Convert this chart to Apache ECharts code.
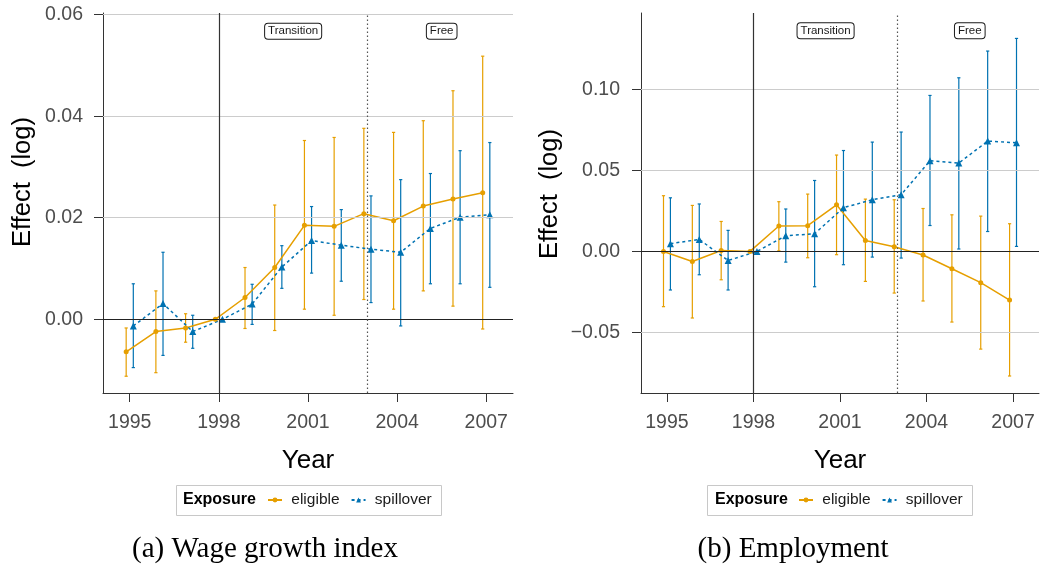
<!DOCTYPE html>
<html><head><meta charset="utf-8">
<script src="https://cdn.jsdelivr.net/npm/echarts@6/dist/echarts.min.js"></script>
<style>html,body{margin:0;padding:0;background:#fff}#c{width:1040px;height:573px}</style>
</head><body><div id="c"></div>
<script>
// ---- data ----
const years = [1995,1996,1997,1998,1999,2000,2001,2002,2003,2004,2005,2006,2007];
const xTicks = [1995,1998,2001,2004,2007];

// (a) Wage growth index
const wageEligible   = [-0.0064,-0.0024,-0.0017,0, 0.0043, 0.0102,0.0185,0.0183,0.0208,0.0194,0.0223,0.0237, 0.0249];
const wageEligibleLo = [-0.0112,-0.0105,-0.0045,0,-0.0018,-0.0022,0.0020,0.0008,0.0039,0.0020,0.0056,0.0026,-0.0019];
const wageEligibleHi = [-0.0017, 0.0056, 0.0011,0, 0.0102, 0.0225,0.0352,0.0358,0.0376,0.0368,0.0391,0.0450, 0.0518];
const wageSpill      = [-0.0013, 0.0031,-0.0024,0, 0.0030, 0.0103,0.0155,0.0146,0.0138, 0.0132,0.0179,0.0201,0.0206];
const wageSpillLo    = [-0.0095,-0.0071,-0.0057,0,-0.0010, 0.0061,0.0091,0.0075,0.0033,-0.0013,0.0070,0.0070,0.0063];
const wageSpillHi    = [ 0.0070, 0.0132, 0.0008,0, 0.0069, 0.0145,0.0222,0.0216,0.0243, 0.0275,0.0287,0.0332,0.0348];
const wageYTicks = [0, 0.02, 0.04, 0.06];

// (b) Employment
const empEligible   = [0,-0.0062, 0.0006,0,0.0157, 0.0159, 0.0288, 0.0068, 0.0029,-0.0022,-0.0107,-0.0193,-0.0300];
const empEligibleLo = [-0.0341,-0.0411,-0.0175,0,0.0004,-0.0039,-0.0020,-0.0185,-0.0257,-0.0306,-0.0436,-0.0603,-0.0769];
const empEligibleHi = [ 0.0344, 0.0284, 0.0185,0,0.0307, 0.0354, 0.0595, 0.0323, 0.0319, 0.0265, 0.0226, 0.0218, 0.0171];
const empSpill      = [ 0.0048, 0.0074,-0.0056,0, 0.0097, 0.0109, 0.0270, 0.0319, 0.0350,0.0560,0.0546,0.0681,0.0671];
const empSpillLo    = [-0.0238,-0.0144,-0.0238,0,-0.0066,-0.0218,-0.0082,-0.0035,-0.0041,0.0160,0.0015,0.0123,0.0031];
const empSpillHi    = [ 0.0331, 0.0293, 0.0130,0, 0.0262, 0.0438, 0.0623, 0.0675, 0.0737,0.0963,0.1072,0.1237,0.1315];
const empYTicks = [-0.05, 0, 0.05, 0.10];

const periodLabels = ['Transition','Free'];
const periodMid = [2000.5, 2005.5];
const reformYear = 1998, freeYear = 2003;

// ---- style ----
const ORANGE = '#E69F00', BLUE = '#0072B2';
const SANS = 'Liberation Sans, Arial, Helvetica, sans-serif';
const SERIF = 'Liberation Serif, Times New Roman, serif';
const DODGE = 0.12;

const pts = (vals, off) => years.map((y,i) => [y+off, vals[i]]);
const ci = (lo, hi, off) => years.map((y,i) => [y+off, lo[i], hi[i]]).filter(d => d[1] !== d[2]);

function errRender(color){
  return function(params, api){
    const x = api.value(0), lo = api.value(1), hi = api.value(2);
    const a = api.coord([x, hi]), b = api.coord([x, lo]);
    const c = 1.6, st = {stroke: color, lineWidth: 1.2};
    return {type:'group', children:[
      {type:'line', shape:{x1:a[0],y1:a[1],x2:b[0],y2:b[1]}, style:st},
      {type:'line', shape:{x1:a[0]-c,y1:a[1],x2:a[0]+c,y2:a[1]}, style:st},
      {type:'line', shape:{x1:b[0]-c,y1:b[1],x2:b[0]+c,y2:b[1]}, style:st}
    ]};
  };
}

function panelSeries(idx, el, elLo, elHi, sp, spLo, spHi, yGrid, annY){
  const grey = yGrid.filter(v => v !== 0).map(v => ({yAxis: v, lineStyle:{color:'#cccccc', width:1, type:'solid'}}));
  return [
    {type:'line', xAxisIndex:idx, yAxisIndex:idx, data:[], z:1, silent:true,
     markLine:{silent:true, symbol:'none', label:{show:false}, animation:false,
       data: grey.concat([
         {yAxis:0, lineStyle:{color:'#222', width:1.2, type:'solid'}},
         {xAxis:reformYear, lineStyle:{color:'#333', width:1.2, type:'solid'}},
         {xAxis:freeYear, lineStyle:{color:'#555', width:1.2, type:[1.5,2.5]}}
       ])}},
    {type:'custom', name:'eligible ci', xAxisIndex:idx, yAxisIndex:idx, z:3, renderItem: errRender(ORANGE),
     data: ci(elLo, elHi, -DODGE), encode:{x:0, y:[1,2]}},
    {type:'custom', name:'spillover ci', xAxisIndex:idx, yAxisIndex:idx, z:3, renderItem: errRender(BLUE),
     data: ci(spLo, spHi, DODGE), encode:{x:0, y:[1,2]}},
    {type:'line', name:'eligible', xAxisIndex:idx, yAxisIndex:idx, z:4, data: pts(el, -DODGE),
     symbol:'circle', symbolSize:5, showAllSymbol:true,
     lineStyle:{color:ORANGE, width:1.5}, itemStyle:{color:ORANGE}},
    {type:'line', name:'spillover', xAxisIndex:idx, yAxisIndex:idx, z:4, data: pts(sp, DODGE),
     symbol:'triangle', symbolSize:7, showAllSymbol:true,
     lineStyle:{color:BLUE, width:1.5, type:[3,3]}, itemStyle:{color:BLUE}},
    {type:'scatter', xAxisIndex:idx, yAxisIndex:idx, z:5, symbol:'rect', symbolSize:1,
     itemStyle:{color:'rgba(255,255,255,0)'}, silent:true,
     data: periodLabels.map((t,i) => ({name:t, value:[periodMid[i], annY]})),
     label:{show:true, position:'inside', formatter:'{b}', fontFamily:SANS, fontSize:11.5, color:'#1a1a1a',
       borderColor:'#1a1a1a', borderWidth:1, borderRadius:3, padding:[2,3,1,3], backgroundColor:'#fff', opacity:1}}
  ];
}

function xAxisDef(idx){
  return {type:'value', gridIndex:idx, min:1994.1, max:2007.9,
    name:'Year', nameLocation:'middle', nameGap:55,
    nameTextStyle:{fontFamily:SANS, fontSize:26, color:'#000'},
    axisLine:{show:true, onZero:false, lineStyle:{color:'#333', width:1}},
    axisTick:{show:true, length:9, customValues:xTicks, lineStyle:{color:'#333'}},
    axisLabel:{customValues:xTicks, margin:20, fontFamily:SANS, fontSize:19.5, color:'#4d4d4d', formatter: v => String(v)},
    splitLine:{show:false}};
}
function yAxisDef(idx, min, max, ticks, margin){
  return {type:'value', gridIndex:idx, min:min, max:max,
    axisLine:{show:true, onZero:false, lineStyle:{color:'#333', width:1}},
    axisTick:{show:true, length:9, customValues:ticks, lineStyle:{color:'#333'}},
    axisLabel:{customValues:ticks, margin:margin, fontFamily:SANS, fontSize:19.5, color:'#4d4d4d',
      formatter: v => (v < 0 ? '\u2212' : '') + Math.abs(v).toFixed(2)},
    splitLine:{show:false}};
}

const legendCommon = {data:['eligible','spillover'], orient:'horizontal', itemWidth:14, itemHeight:6, itemGap:11,
  padding:0, formatter: n => ' ' + n, textStyle:{fontFamily:SANS, fontSize:15.5, color:'#1a1a1a'}, selectedMode:false};

const option = {
  animation:false,
  backgroundColor:'#fff',
  grid:[{left:103, top:13, width:410, height:380}, {left:641, top:13, width:398, height:380}],
  xAxis:[xAxisDef(0), xAxisDef(1)],
  yAxis:[yAxisDef(0, -0.0145, 0.0603, wageYTicks, 20), yAxisDef(1, -0.0874, 0.1472, empYTicks, 21)],
  legend:[Object.assign({left:267, top:492}, legendCommon), Object.assign({left:798, top:492}, legendCommon)],
  series: [].concat(
    panelSeries(0, wageEligible, wageEligibleLo, wageEligibleHi, wageSpill, wageSpillLo, wageSpillHi, wageYTicks, 0.0567),
    panelSeries(1, empEligible, empEligibleLo, empEligibleHi, empSpill, empSpillLo, empSpillHi, empYTicks, 0.1362)
  ),
  graphic:[
    {type:'text', x:23, y:182, rotation:Math.PI/2, style:{text:'Effect  (log)', font:'25.5px '+SANS, fill:'#000', textAlign:'center', textVerticalAlign:'middle'}},
    {type:'text', x:550, y:194, rotation:Math.PI/2, style:{text:'Effect  (log)', font:'25.5px '+SANS, fill:'#000', textAlign:'center', textVerticalAlign:'middle'}},
    {type:'rect', shape:{x:176.5, y:485.5, width:265, height:30}, style:{fill:'none', stroke:'#c8c8c8', lineWidth:1}},
    {type:'rect', shape:{x:707.5, y:485.5, width:265, height:30}, style:{fill:'none', stroke:'#c8c8c8', lineWidth:1}},
    {type:'text', x:183, y:500, style:{text:'Exposure', font:'bold 16px '+SANS, fill:'#000', textAlign:'left', textVerticalAlign:'middle'}},
    {type:'text', x:715, y:500, style:{text:'Exposure', font:'bold 16px '+SANS, fill:'#000', textAlign:'left', textVerticalAlign:'middle'}},
    {type:'text', x:265, y:549, style:{text:'(a) Wage growth index', font:'29px '+SERIF, fill:'#000', textAlign:'center', textVerticalAlign:'middle'}},
    {type:'text', x:793, y:549, style:{text:'(b) Employment', font:'29px '+SERIF, fill:'#000', textAlign:'center', textVerticalAlign:'middle'}}
  ]
};
const chart = echarts.init(document.getElementById('c'));
chart.setOption(option);
</script>
</body></html>
